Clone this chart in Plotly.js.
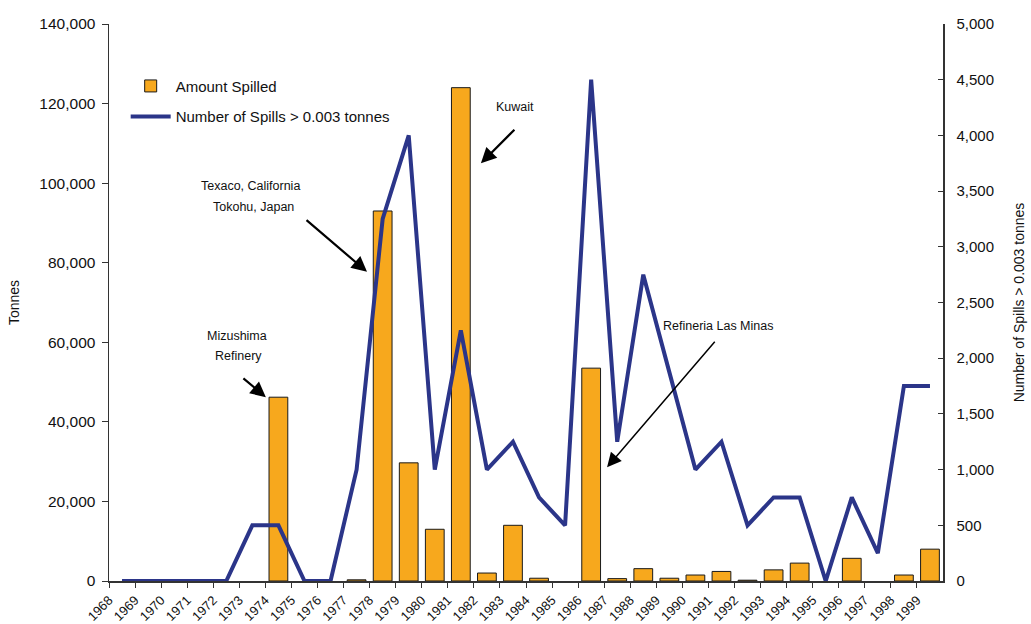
<!DOCTYPE html>
<html>
<head>
<meta charset="utf-8">
<script src="https://cdn.plot.ly/plotly-3.0.1.min.js"></script>
<style>html,body{margin:0;padding:0;background:#fff;}#chart{width:1031px;height:624px;}</style>
</head>
<body>
<div id="chart"></div>
<script>
// ---- data ----
const years = [1968,1969,1970,1971,1972,1973,1974,1975,1976,1977,1978,1979,1980,1981,1982,1983,
               1984,1985,1986,1987,1988,1989,1990,1991,1992,1993,1994,1995,1996,1997,1998,1999];
// null = no bar drawn for that year
const amountSpilled = [null,null,null,null,null,null,46200,null,null,300,93000,29700,13000,124000,2000,14000,
                       700,null,53500,600,3100,700,1500,2400,200,2800,4500,null,5700,null,1500,8000];
const numberOfSpills = [0,0,0,0,0,500,500,0,0,1000,3250,4000,1000,2250,1000,1250,
                        750,500,4500,1250,2750,1875,1000,1250,500,750,750,0,750,250,1750,1750];
const tickLabels = years.map(String);
const seriesNames = ["Amount Spilled", "Number of Spills > 0.003 tonnes"];
const leftTitle = "Tonnes";
const rightTitle = "Number of Spills > 0.003 tonnes";
const notes = [
  {year: 1974, lines: ["Mizushima", "Refinery"]},
  {year: 1978, lines: ["Texaco, California", "Tokohu, Japan"]},
  {year: 1981, lines: ["Kuwait"]},
  {year: 1986, lines: ["Refineria Las Minas"]}
];

// ---- styling ----
const FONT = "Liberation Sans, Arial, Helvetica, sans-serif";
const barColor = "#F7A81D";
const lineColor = "#2B3589";
const tickVals = years.map(y => y - 0.5);
const xRange = [years[0] - 0.5, years[years.length - 1] + 0.5];

const traces = [
  {
    type: "bar", name: seriesNames[0], x: years, y: amountSpilled,
    width: 0.72, xaxis: "x", yaxis: "y",
    marker: {color: barColor, line: {color: "#1a1a1a", width: 1}},
    legendgroup: "a", hoverinfo: "x+y"
  },
  {
    type: "scatter", mode: "lines", name: seriesNames[1], x: years, y: numberOfSpills,
    xaxis: "x", yaxis: "y2",
    line: {color: lineColor, width: 4},
    legendgroup: "b", hoverinfo: "x+y"
  }
];

function idx(y){ return years.indexOf(y); }

const annotations = [];
const txt = (x, y, t) => annotations.push({x: x, y: y, xref: "x", yref: "y", text: t, showarrow: false,
  xanchor: "center", yanchor: "middle", font: {family: FONT, size: 12.5, color: "#111"}});
const arr = (x, y, ax, ay, w, s) => annotations.push({x: x, y: y, xref: "x", yref: "y", text: "", showarrow: true,
  ax: ax, ay: ay, arrowhead: 2, arrowsize: s, arrowwidth: w, arrowcolor: "#000", standoff: 0});

// Mizushima
txt(notes[0].year - 1.59, amountSpilled[idx(1974)] + 15400, notes[0].lines[0]);
txt(notes[0].year - 1.55, amountSpilled[idx(1974)] + 10300, notes[0].lines[1]);
arr(notes[0].year - 0.48, amountSpilled[idx(1974)], -24, -20, 2.2, 1.4);
// Texaco / Tokohu
txt(notes[1].year - 5.09, amountSpilled[idx(1978)] + 6300, notes[1].lines[0]);
txt(notes[1].year - 4.97, amountSpilled[idx(1978)] + 1000, notes[1].lines[1]);
arr(notes[1].year - 0.6, amountSpilled[idx(1978)] - 15300, -62, -53, 2.2, 1.4);
// Kuwait
txt(notes[2].year + 2.08, amountSpilled[idx(1981)] - 4900, notes[2].lines[0]);
arr(notes[2].year + 0.77, amountSpilled[idx(1981)] - 19000, 35, -35, 2.2, 1.4);
// Refineria Las Minas
txt(notes[3].year + 4.87, amountSpilled[idx(1986)] + 10600, notes[3].lines[0]);
arr(notes[3].year + 0.61, amountSpilled[idx(1986)] - 24900, 109, -127, 1.5, 1.9);

const layout = {
  width: 1031, height: 624,
  margin: {l: 109, r: 88, t: 24, b: 43, pad: 0},
  paper_bgcolor: "#ffffff", plot_bgcolor: "#ffffff",
  font: {family: FONT, size: 15, color: "#111"},
  showlegend: true,
  legend: {x: 0.02, y: 0.918, xanchor: "left", yanchor: "top", bgcolor: "rgba(0,0,0,0)",
           font: {family: FONT, size: 15, color: "#111"}, traceorder: "grouped",
           tracegroupgap: 8, itemwidth: 40},
  xaxis: {
    range: xRange, tickmode: "array", tickvals: tickVals, ticktext: tickLabels,
    tickangle: -45, ticks: "outside", ticklen: 5, tickcolor: "#333", tickwidth: 1,
    showline: true, linecolor: "#333", linewidth: 1.5, showgrid: false, zeroline: false,
    tickfont: {family: FONT, size: 13, color: "#111"}, automargin: false, fixedrange: true
  },
  xaxis2: {
    overlaying: "x", anchor: "y", range: xRange, tickmode: "array", tickvals: tickVals,
    ticks: "inside", ticklen: 4, tickcolor: "#333", showticklabels: false,
    showline: false, showgrid: false, zeroline: false, automargin: false
  },
  yaxis: {
    range: [0, 140000], tickmode: "linear", tick0: 0, dtick: 20000, tickformat: ",d",
    ticks: "outside", ticklen: 6, tickcolor: "#333", showline: true, linecolor: "#333", linewidth: 1.5,
    showgrid: false, zeroline: false, automargin: false, ticklabelstandoff: 3,
    tickfont: {family: FONT, size: 15.5, color: "#111"},
    title: {text: leftTitle, font: {family: FONT, size: 14, color: "#111"}, standoff: 16}
  },
  yaxis3: {
    overlaying: "y", anchor: "x", range: [0, 140000], tickmode: "linear", tick0: 0, dtick: 20000,
    ticks: "inside", ticklen: 4, tickcolor: "#333", showticklabels: false,
    showline: false, showgrid: false, zeroline: false, automargin: false
  },
  yaxis2: {
    overlaying: "y", side: "right", anchor: "x", range: [0, 5000], tickmode: "linear", tick0: 0, dtick: 500,
    tickformat: ",d", ticks: "inside", ticklen: 5, tickcolor: "#333",
    showline: true, linecolor: "#333", linewidth: 1.5, showgrid: false, zeroline: false,
    automargin: false, ticklabelstandoff: 9,
    tickfont: {family: FONT, size: 15, color: "#111"},
    title: {text: rightTitle, font: {family: FONT, size: 14, color: "#111"}, standoff: 21}
  },
  annotations: annotations
};

Plotly.newPlot("chart", traces, layout, {staticPlot: true, displayModeBar: false});
</script>
</body>
</html>
